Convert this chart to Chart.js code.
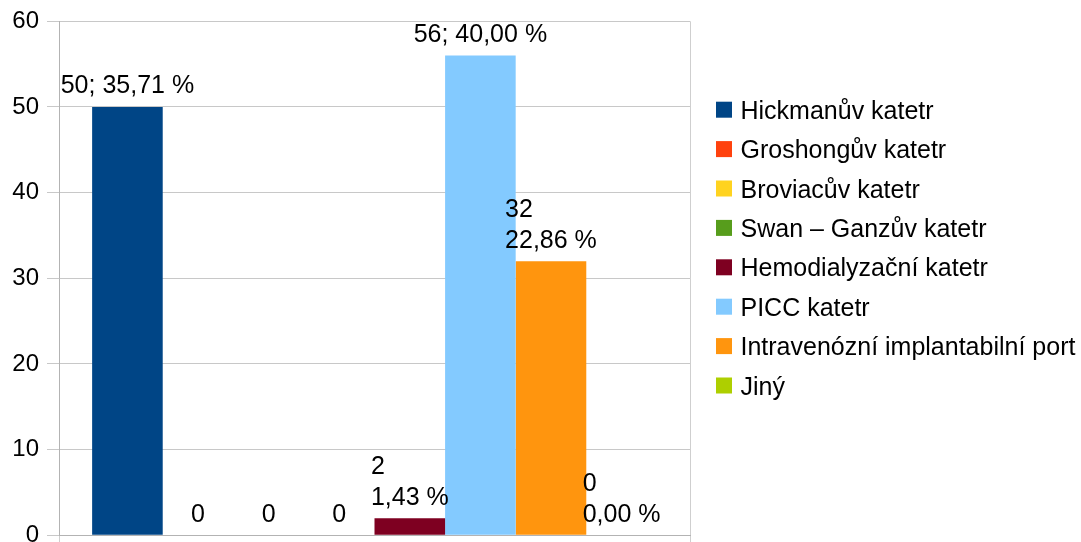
<!DOCTYPE html>
<html lang="cs">
<head>
<meta charset="utf-8">
<title>Typy katétrů</title>
<script src="https://cdn.jsdelivr.net/npm/chart.js@4.4.1/dist/chart.umd.min.js"></script>
<style>
  html, body { margin: 0; padding: 0; background: #ffffff; overflow: hidden; }
  #wrap { position: relative; width: 1081px; height: 542px; overflow: hidden; }
  canvas { display: block; }
</style>
</head>
<body>
<div id="wrap"><canvas id="chart" width="1081" height="542"></canvas></div>
<script>
// Catheter types and counts
const catheterTypes = [
  'Hickmanův katetr',
  'Groshongův katetr',
  'Broviacův katetr',
  'Swan – Ganzův katetr',
  'Hemodialyzační katetr',
  'PICC katetr',
  'Intravenózní implantabilní port',
  'Jiný'
];
const counts = [50, 0, 0, 0, 2, 56, 32, 0];
// how each bar's label is written: value only, "value; percent" or value over percent
const labelForms = ['inline', 'value', 'value', 'value', 'stacked', 'inline', 'stacked', 'stacked'];
const barColors = ['#004586', '#ff420e', '#ffd320', '#579d1c', '#7e0021', '#83caff', '#ff950e', '#aecf00'];
const yTicks = [0, 10, 20, 30, 40, 50, 60];

const FONT = '"Liberation Sans", Arial, sans-serif';
const total = counts.reduce((a, b) => a + b, 0);

function labelLines(i) {
  const v = counts[i];
  const pct = (v / total * 100).toFixed(2).replace('.', ',') + ' %';
  if (labelForms[i] === 'inline') return [v + '; ' + pct];
  if (labelForms[i] === 'stacked') return [String(v), pct];
  return [String(v)];
}

// value labels above each bar
const barLabels = {
  id: 'barLabels',
  afterDatasetsDraw(chart) {
    const ctx = chart.ctx;
    ctx.save();
    ctx.font = '25px ' + FONT;
    ctx.fillStyle = '#000000';
    ctx.textAlign = 'left';
    ctx.textBaseline = 'alphabetic';
    chart.data.datasets.forEach((ds, i) => {
      const bar = chart.getDatasetMeta(i).data[0];
      if (!bar) return;
      const lines = labelLines(i);
      const w = Math.max(...lines.map(t => ctx.measureText(t).width));
      const left = bar.x - w / 2;
      let base = bar.y - 13.5;
      for (let k = lines.length - 1; k >= 0; k--) {
        ctx.fillText(lines[k], left, base);
        base -= 31;
      }
    });
    ctx.restore();
  }
};

// legend column on the right
const sideLegend = {
  id: 'sideLegend',
  afterDraw(chart) {
    const ctx = chart.ctx;
    ctx.save();
    ctx.font = '25px ' + FONT;
    ctx.textAlign = 'left';
    ctx.textBaseline = 'alphabetic';
    chart.data.datasets.forEach((ds, i) => {
      const cy = 109.7 + i * 39.4;
      ctx.fillStyle = ds.backgroundColor;
      ctx.fillRect(716, cy - 8, 16, 16);
      ctx.fillStyle = '#000000';
      ctx.fillText(ds.label, 740.5, cy + 9);
    });
    ctx.restore();
  }
};

const datasets = catheterTypes.map((name, i) => ({
  label: name,
  data: [counts[i]],
  backgroundColor: barColors[i],
  borderWidth: 0,
  barPercentage: 1.0,
  categoryPercentage: 0.895
}));

new Chart(document.getElementById('chart'), {
  type: 'bar',
  data: { labels: [''], datasets },
  options: {
    responsive: false,
    animation: false,
    devicePixelRatio: 1,
    layout: { padding: { top: 21.3, right: 391, bottom: 0, left: 0 } },
    plugins: { legend: { display: false }, tooltip: { enabled: false } },
    scales: {
      x: {
        grid: { color: '#cfcfcf', lineWidth: 1, tickLength: 7, offset: true },
        border: { color: '#b3b3b3', width: 1 },
        ticks: { display: false },
        afterFit(scale) { scale.height = 6.7; scale.paddingLeft = 0; scale.paddingRight = 0; }
      },
      y: {
        min: 0,
        max: 60,
        afterBuildTicks(scale) { scale.ticks = yTicks.map(v => ({ value: v })); },
        grid: { color: '#c8c8c8', lineWidth: 1, tickLength: 12 },
        border: { color: '#b3b3b3', width: 1 },
        ticks: {
          padding: 8,
          color: '#000000',
          font: { family: FONT, size: 24 }
        },
        afterFit(scale) { scale.width = 59; scale.paddingTop = 0; scale.paddingBottom = 0; }
      }
    }
  },
  plugins: [barLabels, sideLegend]
});
</script>
</body>
</html>
